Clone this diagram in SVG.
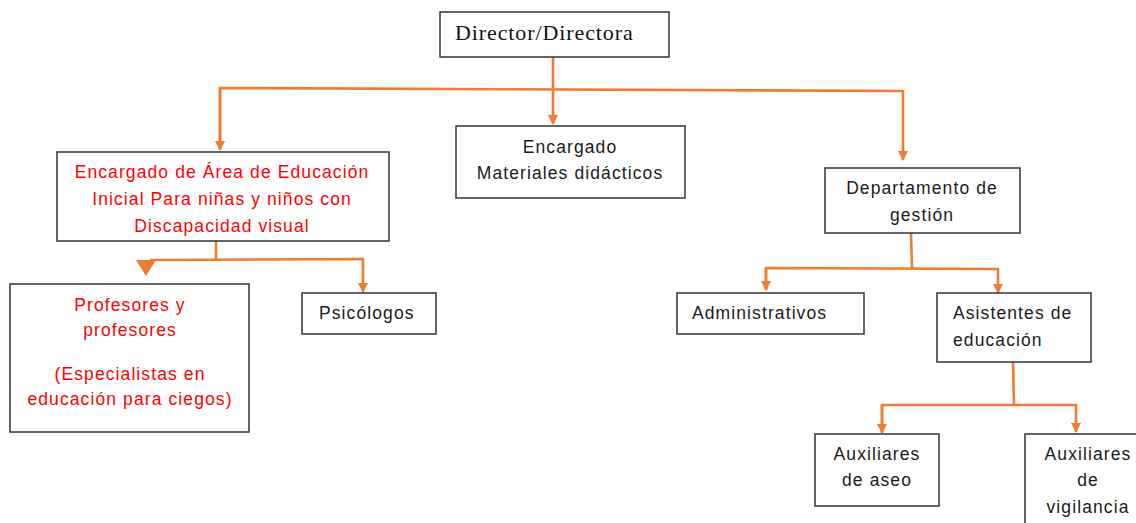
<svg xmlns="http://www.w3.org/2000/svg" width="1136" height="523" viewBox="0 0 1136 523">
<style>
.box{fill:#fff;stroke:#404040;stroke-width:1.6}
.t{font-family:"Liberation Sans",Arial,sans-serif;font-size:17.5px;letter-spacing:1.1px;fill:#1a1a1a}
.r{fill:#ff0000}
.c{text-anchor:middle}
.ser{font-family:"Liberation Serif","Times New Roman",serif;font-size:22px;letter-spacing:0.9px;fill:#111}
.ln{fill:none;stroke:#ED7D31;stroke-width:2.6}
</style>
<defs>
<marker id="ah" viewBox="0 0 10 10" refX="9" refY="5" markerWidth="4" markerHeight="4" orient="auto" markerUnits="strokeWidth">
<path d="M0,0 L10,5 L0,10 Z" fill="#ED7D31"/>
</marker>
</defs>
<rect width="1136" height="523" fill="#fff"/>
<g id="connectors">
<path class="ln" d="M553,57 V88"/>
<path class="ln" d="M220,148 V88 L903,91 V160" marker-end="url(#ah)"/>
<path class="ln" d="M220,88 V150" marker-end="url(#ah)"/>
<path class="ln" d="M553,88 V124" marker-end="url(#ah)"/>
<path class="ln" d="M216,241 V259"/>
<path class="ln" d="M150,260 L363,259 V292" marker-end="url(#ah)"/>
<polygon points="136,260 156,260 146,276" fill="#ED7D31"/>
<path class="ln" d="M911,233 L912,268"/>
<path class="ln" d="M766,290 V268 L998,269 V293" marker-end="url(#ah)"/>
<path class="ln" d="M766,268 V290" marker-end="url(#ah)"/>
<path class="ln" d="M1013,362 L1014,405"/>
<path class="ln" d="M882,432 V405 L1076,405 V432" marker-end="url(#ah)"/>
<path class="ln" d="M882,405 V433" marker-end="url(#ah)"/>
</g>
<g id="director">
<rect class="box" x="440" y="12" width="229" height="45"/>
<text class="ser" x="455" y="40">Director/Directora</text>
</g>
<g id="encargado-area">
<rect class="box" x="57" y="152" width="332" height="89"/>
<text class="t r c" x="222" y="178">Encargado de Área de Educación</text>
<text class="t r c" x="222" y="205">Inicial Para niñas y niños con</text>
<text class="t r c" x="222" y="232">Discapacidad visual</text>
</g>
<g id="encargado-materiales">
<rect class="box" x="456" y="126" width="229" height="72"/>
<text class="t c" x="570" y="153">Encargado</text>
<text class="t c" x="570" y="179">Materiales didácticos</text>
</g>
<g id="departamento">
<rect class="box" x="825" y="168" width="195" height="65"/>
<text class="t c" x="922" y="194">Departamento de</text>
<text class="t c" x="922" y="221">gestión</text>
</g>
<g id="profesores">
<rect class="box" x="10" y="284" width="239" height="148"/>
<text class="t r c" x="130" y="311">Profesores y</text>
<text class="t r c" x="130" y="336">profesores</text>
<text class="t r c" x="130" y="380">(Especialistas en</text>
<text class="t r c" x="130" y="405">educación para ciegos)</text>
</g>
<g id="psicologos">
<rect class="box" x="302" y="293" width="134" height="41"/>
<text class="t" x="319" y="319">Psicólogos</text>
</g>
<g id="administrativos">
<rect class="box" x="677" y="293" width="187" height="41"/>
<text class="t" x="692" y="319">Administrativos</text>
</g>
<g id="asistentes">
<rect class="box" x="937" y="293" width="154" height="69"/>
<text class="t" x="953" y="319">Asistentes de</text>
<text class="t" x="953" y="346">educación</text>
</g>
<g id="aux-aseo">
<rect class="box" x="815" y="434" width="124" height="72"/>
<text class="t c" x="877" y="460">Auxiliares</text>
<text class="t c" x="877" y="486">de aseo</text>
</g>
<g id="aux-vigilancia">
<rect class="box" x="1025" y="434" width="120" height="100"/>
<text class="t c" x="1088" y="460">Auxiliares</text>
<text class="t c" x="1088" y="486">de</text>
<text class="t c" x="1088" y="513">vigilancia</text>
</g>
</svg>
